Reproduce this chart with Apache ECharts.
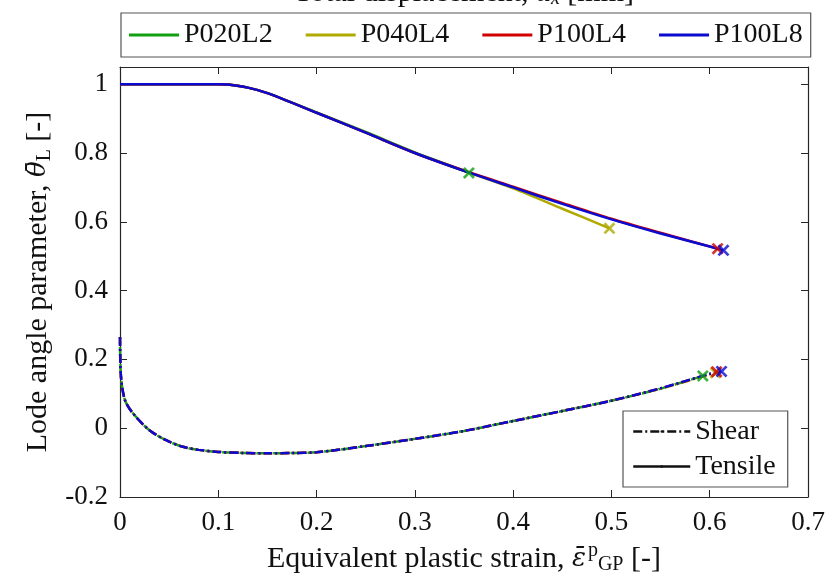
<!DOCTYPE html>
<html>
<head>
<meta charset="utf-8">
<script src="https://cdn.jsdelivr.net/npm/echarts@6/dist/echarts.min.js"></script>
<style>html,body{margin:0;padding:0;background:#fff}#c{width:833px;height:580px}</style>
</head>
<body>
<div id="c"></div>
<script>
// ---- data ----
const seriesNames = ['P020L2', 'P040L4', 'P100L4', 'P100L8'];
const seriesColors = ['#10a010', '#b0aa00', '#d00000', '#0a0ad0'];
const styleNames = ['Shear', 'Tensile'];
const xTicks = [0, 0.1, 0.2, 0.3, 0.4, 0.5, 0.6, 0.7];
const yTicks = [-0.2, 0, 0.2, 0.4, 0.6, 0.8, 1];

// Tensile (solid) curves  [equivalent plastic strain, Lode angle parameter]
const tensileP020L2 = [[0,1],[0.05,1],[0.1,1],[0.11,0.999],[0.13,0.99],[0.15,0.974],[0.2,0.918],[0.25,0.861],[0.3,0.802],[0.33,0.77],[0.355,0.742]];
const tensileP040L4 = [[0,1],[0.05,1],[0.1,1],[0.11,0.999],[0.13,0.99],[0.15,0.974],[0.2,0.917],[0.25,0.859],[0.3,0.8],[0.35,0.748],[0.4,0.697],[0.45,0.638],[0.498,0.581]];
const tensileP100L4 = [[0,1],[0.05,1],[0.1,1],[0.11,0.999],[0.13,0.99],[0.15,0.974],[0.2,0.917],[0.25,0.859],[0.3,0.8],[0.35,0.749],[0.4,0.702],[0.45,0.655],[0.5,0.609],[0.55,0.568],[0.608,0.522]];
const tensileP100L8 = [[0,1],[0.05,1],[0.1,1],[0.11,0.999],[0.13,0.99],[0.15,0.974],[0.2,0.917],[0.25,0.859],[0.3,0.8],[0.35,0.748],[0.4,0.7],[0.45,0.652],[0.5,0.607],[0.55,0.566],[0.6,0.528],[0.614,0.517]];

// Shear (dash-dot) curves
const shearP020L2 = [[0,0.265],[0.001,0.15],[0.005,0.082],[0.013,0.044],[0.03,-0.006],[0.047,-0.035],[0.064,-0.054],[0.08,-0.063],[0.1,-0.069],[0.125,-0.072],[0.15,-0.073],[0.175,-0.072],[0.2,-0.07],[0.25,-0.052],[0.3,-0.031],[0.35,-0.008],[0.4,0.021],[0.45,0.05],[0.5,0.08],[0.55,0.115],[0.593,0.152]];
const shearP040L4 = [[0,0.265],[0.001,0.15],[0.005,0.082],[0.013,0.044],[0.03,-0.006],[0.047,-0.035],[0.064,-0.054],[0.08,-0.063],[0.1,-0.069],[0.125,-0.072],[0.15,-0.073],[0.175,-0.072],[0.2,-0.07],[0.25,-0.052],[0.3,-0.031],[0.35,-0.008],[0.4,0.021],[0.45,0.05],[0.5,0.08],[0.55,0.115],[0.6,0.156],[0.606,0.161]];
const shearP100L4 = [[0,0.265],[0.001,0.15],[0.005,0.082],[0.013,0.044],[0.03,-0.006],[0.047,-0.035],[0.064,-0.054],[0.08,-0.063],[0.1,-0.069],[0.125,-0.072],[0.15,-0.073],[0.175,-0.072],[0.2,-0.07],[0.25,-0.052],[0.3,-0.031],[0.35,-0.008],[0.4,0.021],[0.45,0.05],[0.5,0.08],[0.55,0.116],[0.6,0.158],[0.607,0.164]];
const shearP100L8 = [[0,0.265],[0.001,0.15],[0.005,0.082],[0.013,0.044],[0.03,-0.006],[0.047,-0.035],[0.064,-0.054],[0.08,-0.063],[0.1,-0.069],[0.125,-0.072],[0.15,-0.073],[0.175,-0.072],[0.2,-0.07],[0.25,-0.052],[0.3,-0.031],[0.35,-0.008],[0.4,0.021],[0.45,0.05],[0.5,0.08],[0.55,0.116],[0.6,0.158],[0.612,0.165]];

const tensileData = [tensileP020L2, tensileP040L4, tensileP100L4, tensileP100L8];
const shearData = [shearP020L2, shearP040L4, shearP100L4, shearP100L8];

// ---- chart ----
const FONT = 'Liberation Serif';
const MFONT = 'DejaVu Serif';
const AX = '#262626';
const crossPath = 'path://M0,1.6 L1.6,0 L5,3.4 L8.4,0 L10,1.6 L6.6,5 L10,8.4 L8.4,10 L5,6.6 L1.6,10 L0,8.4 L3.4,5 Z';
const dashDot = [9, 3, 2, 3];
const dashOffsets = [7, 0, 0, 0];

const chart = echarts.init(document.getElementById('c'), null, {renderer: 'canvas'});

const series = [];
seriesNames.forEach((n, i) => {
  series.push({
    name: n, type: 'line', data: tensileData[i], symbol: 'none', smooth: 0.3,
    color: seriesColors[i], lineStyle: {width: 2.5, color: seriesColors[i], type: 'solid'}, z: 3 + i
  });
});
seriesNames.forEach((n, i) => {
  series.push({
    name: n, type: 'line', data: shearData[i], symbol: 'none', smooth: 0.3,
    color: seriesColors[i], lineStyle: {width: 2.5, color: seriesColors[i], type: dashDot, dashOffset: dashOffsets[i]}, z: 3 + i
  });
});
seriesNames.forEach((n, i) => {
  const t = tensileData[i][tensileData[i].length - 1];
  const s = shearData[i][shearData[i].length - 1];
  series.push({
    name: n, type: 'scatter', data: [t, s], symbol: crossPath, symbolSize: 12,
    itemStyle: {color: seriesColors[i]}, z: 10 + i
  });
});
series.push({name: 'Shear', type: 'line', data: [], color: '#111', lineStyle: {type: dashDot, width: 2, color: '#111'}, symbol: 'none'});
series.push({name: 'Tensile', type: 'line', data: [], color: '#111', lineStyle: {type: 'solid', width: 2, color: '#111'}, symbol: 'none'});

const axisCommon = {
  axisLine: {show: true, onZero: false, lineStyle: {color: AX, width: 1.2}},
  axisTick: {show: true, inside: true, length: 7, lineStyle: {color: AX, width: 1}},
  splitLine: {show: false}
};

const option = {
  animation: false,
  backgroundColor: '#fff',
  textStyle: {fontFamily: FONT},
  grid: {left: 120, right: 25, top: 67, bottom: 83, containLabel: false, outerBoundsMode: 'none'},
  legend: [
    {
      data: seriesNames.map((n, i) => ({name: n, icon: 'rect', itemStyle: {color: seriesColors[i]}})),
      left: 121, top: 13, orient: 'horizontal',
      itemWidth: 50, itemHeight: 3, itemGap: 33,
      padding: [5, 8], borderColor: '#555', borderWidth: 1.2, backgroundColor: '#fff',
      textStyle: {fontFamily: FONT, fontSize: 28, color: '#111', lineHeight: 34},
      selectedMode: false
    },
    {
      data: [
        {name: 'Shear', lineStyle: {type: dashDot, width: 2.5, color: '#111'}},
        {name: 'Tensile', lineStyle: {type: 'solid', width: 2.5, color: '#111'}}
      ],
      left: 623, top: 411, orient: 'vertical',
      itemWidth: 57, itemHeight: 3, itemGap: 2,
      padding: [4, 12, 4, 9], borderColor: '#555', borderWidth: 1.2, backgroundColor: '#fff',
      textStyle: {fontFamily: FONT, fontSize: 28, color: '#111', lineHeight: 33},
      selectedMode: false
    }
  ],
  xAxis: [
    Object.assign({
      type: 'value', position: 'bottom', min: 0, max: 0.7, interval: 0.1,
      axisLabel: {fontFamily: FONT, fontSize: 27, color: '#111', margin: 12,
        formatter: v => { const t = xTicks.find(x => Math.abs(x - v) < 1e-9); return t === undefined ? '' : String(t); }},
      name: 'Equivalent plastic strain, {i|ε̄}{sp|p}{sb|GP} [-]',
      nameLocation: 'middle', nameGap: 44,
      nameTextStyle: {fontFamily: FONT, fontSize: 30, color: '#111',
        rich: {
          i: {fontFamily: MFONT, fontStyle: 'italic', fontSize: 26, color: '#111'},
          sp: {fontFamily: FONT, fontSize: 20, color: '#111', padding: [0, 0, 16, 2]},
          sb: {fontFamily: FONT, fontSize: 20, color: '#111', padding: [12, 0, 0, 0]}
        }}
    }, axisCommon),
    Object.assign({
      type: 'value', position: 'top', min: 0, max: 0.7, interval: 0.1,
      axisLabel: {show: false},
      name: 'Total displacement, {i|u}{sb|x} [mm]',
      nameLocation: 'middle', nameGap: 58,
      nameTextStyle: {fontFamily: FONT, fontSize: 30, color: '#111',
        rich: {
          i: {fontFamily: FONT, fontStyle: 'italic', fontSize: 30, color: '#111'},
          sb: {fontFamily: FONT, fontStyle: 'italic', fontSize: 20, color: '#111', padding: [12, 0, 0, 0]}
        }}
    }, axisCommon)
  ],
  yAxis: [
    Object.assign({
      type: 'value', position: 'left', min: -0.2, max: 1.05, interval: 0.2,
      axisLabel: {fontFamily: FONT, fontSize: 27, color: '#111', margin: 12, showMaxLabel: false,
        formatter: v => { const t = yTicks.find(y => Math.abs(y - v) < 1e-9); return t === undefined ? '' : String(t); }},
      name: 'Lode angle parameter, {i|θ̄}{sb|L} [-]',
      nameLocation: 'middle', nameGap: 62, nameRotate: 90,
      nameTextStyle: {fontFamily: FONT, fontSize: 30, color: '#111',
        rich: {
          i: {fontFamily: MFONT, fontStyle: 'italic', fontSize: 26, color: '#111'},
          sb: {fontFamily: FONT, fontSize: 20, color: '#111', padding: [12, 0, 0, 0]}
        }}
    }, axisCommon),
    Object.assign({
      type: 'value', position: 'right', min: -0.2, max: 1.05, interval: 0.2,
      axisLabel: {show: false}
    }, axisCommon)
  ],
  series: series
};
chart.setOption(option);
</script>
</body>
</html>
